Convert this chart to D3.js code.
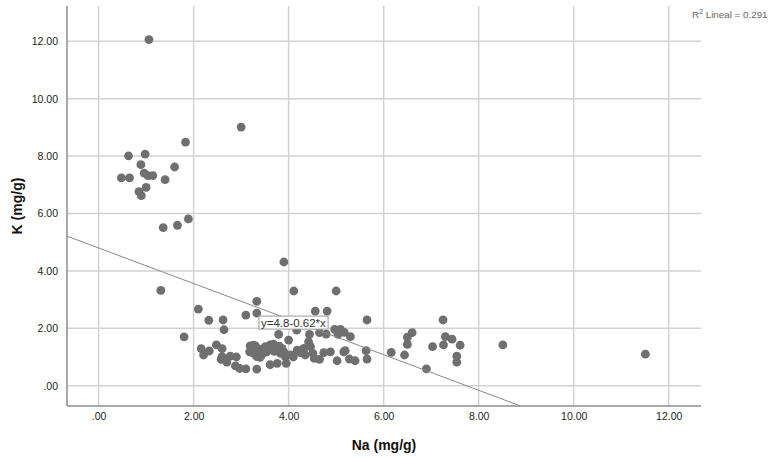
<!DOCTYPE html>
<html>
<head>
<meta charset="utf-8">
<script src="https://cdn.jsdelivr.net/npm/d3@7"></script>
<style>
  html, body { margin: 0; padding: 0; background: #fff; }
  svg { display: block; font-family: "Liberation Sans", Arial, sans-serif; }
</style>
</head>
<body>
<svg id="chart" width="782" height="458"></svg>
<script>
// Sodium (Na) and potassium (K) content, mg/g, one entry per sample
const na = [
  1.06, 3.00, 1.83, 0.63, 0.98, 0.89, 1.60, 0.96, 1.04, 1.14, 0.48, 0.65, 1.40, 1.00, 0.85, 0.90,
  1.36, 1.66, 1.89, 1.31, 3.90, 4.11, 5.00,
  2.10, 2.32, 2.62, 2.64, 1.80, 3.10, 3.33, 3.33, 4.56, 4.81, 5.65, 7.25, 3.79, 4.17, 4.44, 4.65,
  4.79, 4.97, 5.09, 5.04, 5.17, 5.30, 6.50, 6.60, 7.30, 7.44, 7.61, 8.51, 11.51,
  2.16, 2.21, 2.33, 2.48, 2.60, 2.60, 2.58, 2.70, 2.77, 2.90, 2.88, 2.97, 3.10, 3.33, 3.19, 3.30,
  3.18, 3.33, 3.26, 3.40, 3.51, 3.61, 3.68, 3.72, 3.76, 3.83, 3.86, 3.54, 3.44, 3.40, 3.26, 4.00,
  3.93, 4.04, 3.61, 3.76, 3.95, 4.18, 4.25, 4.32, 4.35, 4.46, 4.42, 4.51, 4.54, 4.65, 4.74, 4.88,
  5.02, 5.16, 5.19, 5.28, 5.40, 5.63, 5.65, 6.16, 6.44, 6.50, 6.90, 7.03, 7.26, 7.54, 7.54,
  3.65, 3.70, 3.80, 3.58, 3.90, 4.10
];
const k = [
  12.06, 9.01, 8.49, 8.01, 8.07, 7.70, 7.62, 7.41, 7.32, 7.32, 7.24, 7.24, 7.18, 6.91, 6.76, 6.62,
  5.51, 5.59, 5.81, 3.32, 4.31, 3.30, 3.30,
  2.67, 2.28, 2.29, 1.95, 1.70, 2.46, 2.94, 2.53, 2.60, 2.60, 2.29, 2.29, 1.79, 1.94, 1.79, 1.85,
  1.80, 1.96, 1.96, 1.79, 1.86, 1.71, 1.69, 1.85, 1.71, 1.62, 1.41, 1.42, 1.10,
  1.29, 1.07, 1.21, 1.42, 1.29, 1.01, 0.92, 0.82, 1.03, 1.00, 0.69, 0.60, 0.59, 0.58, 1.39, 1.39,
  1.18, 1.01, 1.41, 1.27, 1.36, 1.42, 1.45, 1.36, 1.24, 1.13, 1.30, 1.18, 1.09, 0.99, 1.13, 1.59,
  1.01, 1.07, 0.73, 0.78, 0.78, 1.24, 1.15, 1.30, 1.07, 1.36, 1.53, 1.13, 0.95, 0.92, 1.15, 1.18,
  0.87, 1.18, 1.22, 0.93, 0.87, 1.22, 0.93, 1.16, 1.07, 1.44, 0.59, 1.36, 1.42, 1.03, 0.82,
  1.25, 1.20, 1.38, 1.30, 1.18, 1.00
];

// Axis ticks and labels
const xTicks = [0, 2, 4, 6, 8, 10, 12];
const yTicks = [0, 2, 4, 6, 8, 10, 12];
const tickLabels = [".00", "2.00", "4.00", "6.00", "8.00", "10.00", "12.00"];

// Linear fit K = a + b * Na
const fitIntercept = 4.8;
const fitSlope = -0.62;
const fitLabel = "y=4.8-0.62*x";
const r2Value = "0.291";

const xTitle = "Na (mg/g)";
const yTitle = "K (mg/g)";

const svg = d3.select("#chart");
const plot = { left: 67, right: 701, top: 6, bottom: 406 };

const x = d3.scaleLinear().domain([-0.665, 12.68]).range([plot.left, plot.right]);
const y = d3.scaleLinear().domain([-0.707, 13.23]).range([plot.bottom, plot.top]);

// Gridlines
const grid = svg.append("g");
grid.selectAll("line.vx").data(xTicks).join("line")
  .attr("x1", d => x(d)).attr("x2", d => x(d))
  .attr("y1", plot.top).attr("y2", plot.bottom)
  .attr("stroke", "#d2d2d2").attr("stroke-width", 1.5);
grid.selectAll("line.hy").data(yTicks).join("line")
  .attr("y1", d => y(d)).attr("y2", d => y(d))
  .attr("x1", plot.left).attr("x2", plot.right)
  .attr("stroke", "#d2d2d2").attr("stroke-width", 1.5);

// Axes (no tick marks, labels only)
const fmt = d => tickLabels[xTicks.indexOf(d)];
const xAxis = svg.append("g")
  .attr("transform", `translate(0,${plot.bottom})`)
  .call(d3.axisBottom(x).tickValues(xTicks).tickFormat(fmt).tickSize(0).tickPadding(7));
const yAxis = svg.append("g")
  .attr("transform", `translate(${plot.left},0)`)
  .call(d3.axisLeft(y).tickValues(yTicks).tickFormat(d => tickLabels[yTicks.indexOf(d)]).tickSize(0).tickPadding(9));
[xAxis, yAxis].forEach(g => {
  g.select(".domain").attr("stroke", "#8c8c8c").attr("stroke-width", 1.5);
  g.selectAll("text").attr("font-size", 10.5).attr("fill", "#222")
    .attr("font-family", "'Liberation Sans', Arial, sans-serif");
});
xAxis.select(".domain").attr("d", `M${plot.left},0H${plot.right}`);
yAxis.select(".domain").attr("d", `M0,${plot.top}V${plot.bottom}`);

// Points
svg.append("g").selectAll("circle").data(na.map((v, i) => [v, k[i]])).join("circle")
  .attr("cx", d => x(d[0])).attr("cy", d => y(d[1])).attr("r", 4.4)
  .attr("fill", "#6f6f6f");

// Fit line, clipped to the plot area
svg.append("clipPath").attr("id", "clip").append("rect")
  .attr("x", plot.left).attr("y", plot.top)
  .attr("width", plot.right - plot.left).attr("height", plot.bottom - plot.top);
const x0 = x.domain()[0];
const x1 = (y.domain()[0] - fitIntercept) / fitSlope;
svg.append("line").attr("clip-path", "url(#clip)")
  .attr("x1", x(x0)).attr("y1", y(fitIntercept + fitSlope * x0))
  .attr("x2", x(x1)).attr("y2", y(fitIntercept + fitSlope * x1))
  .attr("stroke", "#8a8a8a").attr("stroke-width", 1);

// Fit equation label
const lab = svg.append("g").attr("transform", `translate(${x(4.1)},${y(2.2)})`);
const labText = lab.append("text").attr("text-anchor", "middle").attr("dy", "0.35em")
  .attr("font-size", 11.5).attr("fill", "#333").text(fitLabel);
const bb = labText.node().getBBox();
lab.insert("rect", "text")
  .attr("x", bb.x - 2).attr("y", bb.y - 0.5).attr("width", bb.width + 4).attr("height", bb.height + 1)
  .attr("fill", "#fff").attr("stroke", "#9a9a9a").attr("stroke-width", 1);

// R² note
const r2 = svg.append("text").attr("x", 692).attr("y", 18).attr("font-size", 9.8).attr("fill", "#666");
r2.append("tspan").text("R");
r2.append("tspan").attr("font-size", 7).attr("dy", -4).text("2");
r2.append("tspan").attr("dy", 4).text(" Lineal = " + r2Value);

// Axis titles
svg.append("text").attr("x", (plot.left + plot.right) / 2).attr("y", 450)
  .attr("text-anchor", "middle").attr("font-size", 14).attr("font-weight", "bold")
  .attr("fill", "#111").text(xTitle);
svg.append("text").attr("transform", `translate(22,${(plot.top + plot.bottom) / 2}) rotate(-90)`)
  .attr("text-anchor", "middle").attr("font-size", 14).attr("font-weight", "bold")
  .attr("fill", "#111").text(yTitle);
</script>
</body>
</html>
